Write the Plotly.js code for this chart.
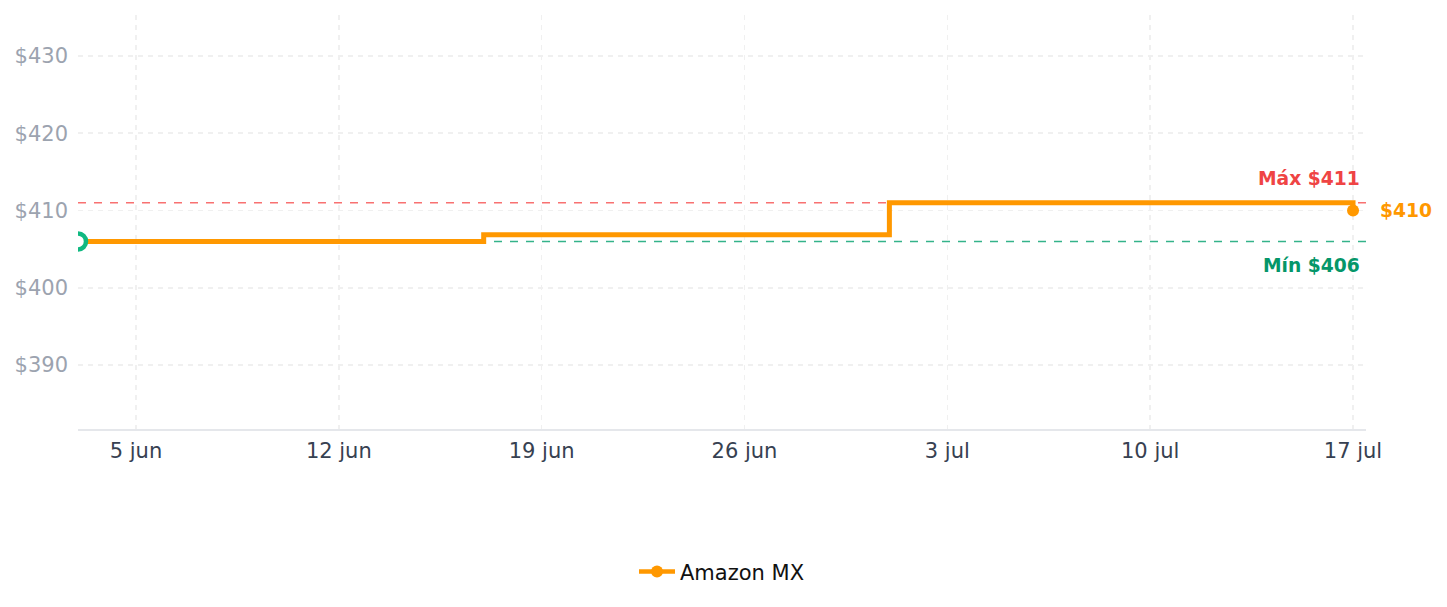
<!DOCTYPE html>
<html>
<head>
<meta charset="utf-8">
<script src="https://cdn.plot.ly/plotly-3.0.1.min.js"></script>
<style>html,body{margin:0;padding:0;background:#fff;}#chart{width:1447px;height:607px;}</style>
</head>
<body>
<div id="chart"></div>
<script>
// Data
const dates = ['2025-06-03', '2025-06-17', '2025-07-01', '2025-07-17'];
const prices = [406, 406.85, 411, 410];
const seriesName = 'Amazon MX';
const minPrice = 406;
const maxPrice = 411;
const lastPrice = 410;
const tickDates = ['2025-06-05', '2025-06-12', '2025-06-19', '2025-06-26', '2025-07-03', '2025-07-10', '2025-07-17'];
const tickLabels = ['5 jun', '12 jun', '19 jun', '26 jun', '3 jul', '10 jul', '17 jul'];
const yTicks = [390, 400, 410, 420, 430];
const yTickLabels = ['$390', '$400', '$410', '$420', '$430'];
const xRange = ['2025-06-03', '2025-07-17 10:45'];
const yRange = [381.72, 435.31];

const ORANGE = '#ff9800';
const FONT = 'DejaVu Sans, sans-serif';

const traces = [
  {
    x: dates, y: prices, type: 'scatter', mode: 'lines',
    line: {shape: 'hv', color: ORANGE, width: 5},
    showlegend: false, hoverinfo: 'skip'
  },
  {
    x: [dates[0]], y: [prices[0]], type: 'scatter', mode: 'markers',
    marker: {size: 16, color: '#ffffff', line: {color: '#10b981', width: 4.5}},
    showlegend: false
  },
  {
    x: [dates[dates.length - 1]], y: [prices[prices.length - 1]], type: 'scatter', mode: 'markers',
    marker: {size: 12, color: ORANGE},
    showlegend: false
  },
  {
    x: [null], y: [null], type: 'scatter', mode: 'lines+markers', name: seriesName,
    line: {color: ORANGE, width: 4.5}, marker: {size: 12, color: ORANGE},
    showlegend: true
  }
];

const layout = {
  width: 1447, height: 607,
  margin: {l: 78, r: 81, t: 15, b: 178},
  paper_bgcolor: '#ffffff', plot_bgcolor: '#ffffff',
  font: {family: FONT, size: 21, color: '#374151'},
  xaxis: {
    type: 'date', range: xRange,
    tickvals: tickDates, ticktext: tickLabels,
    showgrid: true, gridcolor: '#f0f0f0', griddash: '5px,5px', gridwidth: 1.6,
    showline: true, linecolor: '#e5e7eb', linewidth: 1.5,
    zeroline: false, ticks: '', ticklabelstandoff: 2,
    tickfont: {family: FONT, size: 21, color: '#374151'}
  },
  yaxis: {
    range: yRange, tickvals: yTicks, ticktext: yTickLabels,
    showgrid: true, gridcolor: '#f0f0f0', griddash: '5px,5px', gridwidth: 1.6,
    showline: false, zeroline: false, ticks: '', ticklabelstandoff: 9,
    tickfont: {family: FONT, size: 21, color: '#9ca3af'}
  },
  shapes: [
    {type: 'line', xref: 'paper', x0: 0, x1: 1, yref: 'y', y0: maxPrice, y1: maxPrice,
     line: {color: '#f87171', width: 1.6, dash: '8px,8px'}, layer: 'below'},
    {type: 'line', xref: 'paper', x0: 0, x1: 1, yref: 'y', y0: minPrice, y1: minPrice,
     line: {color: '#34b38a', width: 1.6, dash: '8px,8px'}, layer: 'below'}
  ],
  annotations: [
    {xref: 'x', x: dates[dates.length - 1], yref: 'y', y: maxPrice, text: 'Máx $' + maxPrice,
     showarrow: false, xanchor: 'right', yanchor: 'bottom', xshift: 9, yshift: 12,
     font: {family: FONT, size: 18.7, color: '#ef4444', weight: 'bold'}},
    {xref: 'x', x: dates[dates.length - 1], yref: 'y', y: minPrice, text: 'Mín $' + minPrice,
     showarrow: false, xanchor: 'right', yanchor: 'top', xshift: 9, yshift: -12,
     font: {family: FONT, size: 18.7, color: '#059669', weight: 'bold'}},
    {xref: 'x', x: dates[dates.length - 1], yref: 'y', y: lastPrice, text: '$' + lastPrice,
     showarrow: false, xanchor: 'left', yanchor: 'middle', xshift: 25,
     font: {family: FONT, size: 18.7, color: ORANGE, weight: 'bold'}}
  ],
  legend: {
    orientation: 'h', x: 0.5, xanchor: 'center', y: -0.345, yanchor: 'middle',
    itemwidth: 36,
    font: {family: FONT, size: 21, color: '#111111'}
  },
  showlegend: true,
  hovermode: false
};

Plotly.newPlot('chart', traces, layout, {displayModeBar: false, staticPlot: true});
</script>
</body>
</html>
